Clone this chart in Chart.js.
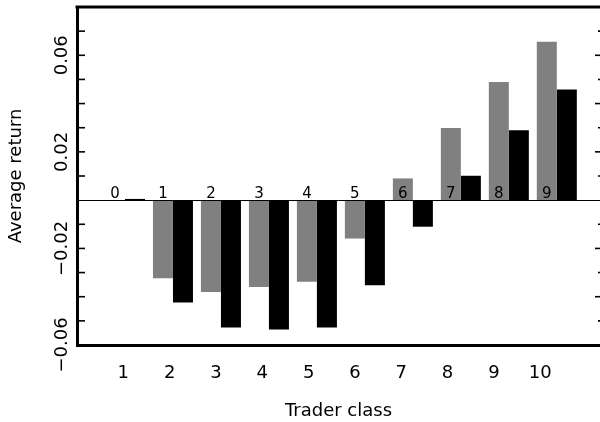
<!DOCTYPE html>
<html>
<head>
<meta charset="utf-8">
<script src="https://cdn.jsdelivr.net/npm/chart.js@4/dist/chart.umd.min.js"></script>
<style>
html,body{margin:0;padding:0;background:#fff;}
#wrap{width:600px;height:422px;}
</style>
</head>
<body>
<div id="wrap"><canvas id="c" width="600" height="422"></canvas></div>
<script>
// ---- data ----
const classes = [1, 2, 3, 4, 5, 6, 7, 8, 9, 10];
const barLabels = ['0', '1', '2', '3', '4', '5', '6', '7', '8', '9'];
const grayValues = [0.0000, -0.0324, -0.0380, -0.0360, -0.0338, -0.0159, 0.0090, 0.0299, 0.0489, 0.0656];
const blackValues = [0.0005, -0.0424, -0.0527, -0.0536, -0.0527, -0.0352, -0.0110, 0.0101, 0.0290, 0.0458];
const yLabelTicks = [-0.06, -0.02, 0.02, 0.06];
const yMinorTicks = [-0.05, -0.04, -0.03, -0.02, -0.01, 0.01, 0.02, 0.03, 0.04, 0.05, 0.06, 0.07];
const rightMajorTicks = [-0.04, -0.02, 0.02, 0.04, 0.06];
const rightMinorTicks = [-0.05, -0.03, -0.01, 0.01, 0.03, 0.05, 0.07];
const xTitle = 'Trader class';
const yTitle = 'Average return';

const FONT = 'DejaVu Sans';

const decorations = {
  id: 'decorations',
  afterDatasetsDraw(chart) {
    const ctx = chart.ctx;
    const ca = chart.chartArea;
    const y = chart.scales.y;
    ctx.save();
    // zero line
    const y0 = y.getPixelForValue(0);
    ctx.strokeStyle = '#000';
    ctx.lineWidth = 1;
    ctx.beginPath();
    ctx.moveTo(ca.left, Math.round(y0) + 0.5);
    ctx.lineTo(ca.right, Math.round(y0) + 0.5);
    ctx.stroke();
    // top frame line
    ctx.lineWidth = 3;
    ctx.beginPath();
    ctx.moveTo(ca.left - 1.5, ca.top);
    ctx.lineTo(ca.right, ca.top);
    ctx.stroke();
    // left inward ticks
    ctx.lineWidth = 1.6;
    yMinorTicks.forEach(v => {
      const p = y.getPixelForValue(v);
      ctx.beginPath();
      ctx.moveTo(ca.left, p);
      ctx.lineTo(ca.left + 8, p);
      ctx.stroke();
    });
    // right inward ticks
    rightMajorTicks.forEach(v => {
      const p = y.getPixelForValue(v);
      ctx.beginPath();
      ctx.moveTo(ca.right - 5, p);
      ctx.lineTo(ca.right, p);
      ctx.stroke();
    });
    rightMinorTicks.forEach(v => {
      const p = y.getPixelForValue(v);
      ctx.beginPath();
      ctx.moveTo(ca.right - 2, p);
      ctx.lineTo(ca.right, p);
      ctx.stroke();
    });
    // y tick labels, rotated
    ctx.fillStyle = '#000';
    ctx.font = '18px "' + FONT + '"';
    ctx.textAlign = 'center';
    ctx.textBaseline = 'alphabetic';
    yLabelTicks.forEach(v => {
      const p = y.getPixelForValue(v);
      const txt = (v < 0 ? '\u2212' : '') + Math.abs(v).toFixed(2);
      ctx.save();
      ctx.translate(ca.left - 10, p);
      ctx.rotate(-Math.PI / 2);
      ctx.fillText(txt, 0, 0);
      ctx.restore();
    });
    // group labels above zero line
    const meta = chart.getDatasetMeta(0);
    ctx.font = '15px "' + FONT + '"';
    ctx.textAlign = 'center';
    ctx.textBaseline = 'alphabetic';
    meta.data.forEach((el, i) => {
      ctx.fillText(barLabels[i], el.x, y0 - 2);
    });
    ctx.restore();
  }
};

new Chart(document.getElementById('c'), {
  type: 'bar',
  data: {
    datasets: [
      {
        data: classes.map((c, i) => ({ x: c, y: grayValues[i] })),
        backgroundColor: '#808080',
        borderWidth: 0,
        categoryPercentage: 0.834,
        barPercentage: 1.0
      },
      {
        data: classes.map((c, i) => ({ x: c, y: blackValues[i] })),
        backgroundColor: '#000000',
        borderWidth: 0,
        categoryPercentage: 0.834,
        barPercentage: 1.0
      }
    ]
  },
  options: {
    responsive: false,
    animation: false,
    devicePixelRatio: 1,
    layout: { padding: { top: 7, right: 0, left: 0, bottom: 0 } },
    plugins: { legend: { display: false }, tooltip: { enabled: false } },
    scales: {
      x: {
        type: 'linear',
        position: 'bottom',
        min: 0,
        max: 10.9,
        offset: false,
        display: false,
        afterBuildTicks: s => { s.ticks = classes.map(v => ({ value: v })); }
      },
      x2: {
        type: 'linear',
        position: 'bottom',
        min: 0,
        max: 11.29,
        offset: false,
        afterBuildTicks: s => { s.ticks = classes.map(v => ({ value: v })); },
        afterFit: s => { s.height = 77; },
        grid: { display: false, drawTicks: false },
        border: { display: true, color: '#000', width: 3 },
        ticks: {
          color: '#000',
          font: { family: FONT, size: 18 },
          padding: 18,
          maxRotation: 0,
          autoSkip: false,
          callback: v => String(v)
        },
        title: {
          display: true,
          text: xTitle,
          color: '#000',
          font: { family: FONT, size: 18 },
          padding: { top: 0, bottom: 0 }
        }
      },
      y: {
        type: 'linear',
        position: 'left',
        min: -0.06,
        max: 0.08,
        afterFit: s => { s.width = 77; },
        grid: { display: false, drawTicks: false },
        border: { display: true, color: '#000', width: 3 },
        ticks: { display: false },
        title: {
          display: true,
          text: yTitle,
          color: '#000',
          font: { family: FONT, size: 18 },
          padding: { top: 6, bottom: 0 }
        }
      }
    }
  },
  plugins: [decorations]
});
</script>
</body>
</html>
